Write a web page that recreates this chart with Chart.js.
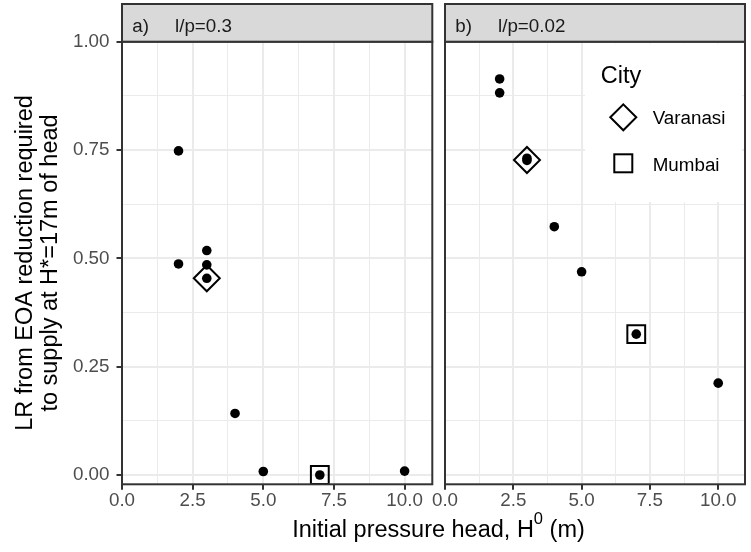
<!DOCTYPE html>
<html>
<head>
<meta charset="utf-8">
<script src="https://cdn.jsdelivr.net/npm/chart.js@4"></script>
<style>
  html, body { margin: 0; padding: 0; background: #fff; overflow: hidden; width: 751px; height: 552px; }
  canvas { position: absolute; left: 0; top: 0; }
</style>
</head>
<body>
<canvas id="panelA" width="751" height="552"></canvas>
<canvas id="panelB" width="760" height="552"></canvas>
<script>
const FONT = "'Liberation Sans', Arial, Helvetica, sans-serif";

// tick positions (major + minor grid)
const xTicks = [0, 1.25, 2.5, 3.75, 5, 6.25, 7.5, 8.75, 10];
const yTicks = [0, 0.125, 0.25, 0.375, 0.5, 0.625, 0.75, 0.875, 1];

// a) l/p=0.3
const headA = [2, 2, 3, 3, 3, 4, 5, 7, 10];
const lrA = [0.748, 0.487, 0.518, 0.485, 0.454, 0.142, 0.008, 0.000, 0.009];
// b) l/p=0.02
const headB = [2, 2, 3, 3, 4, 5, 7, 10];
const lrB = [0.914, 0.882, 0.731, 0.726, 0.573, 0.469, 0.325, 0.212];

// city markers
const varanasiHead = [3];
const varanasiLrA = [0.454];
const varanasiLrB = [0.727];
const mumbaiHead = [7];
const mumbaiLrA = [0.000];
const mumbaiLrB = [0.325];

const toPoints = (xs, ys) => xs.map((x, i) => ({ x: x, y: ys[i] }));
const isMajor = (v, step) => Math.abs(v / step - Math.round(v / step)) < 1e-6;

function datasets(head, lr, vLr, mLr) {
  return [
    { data: toPoints(head, lr), pointRadius: 4.8, pointBackgroundColor: '#000', pointBorderWidth: 0, clip: false },
    { data: toPoints(varanasiHead, vLr), pointStyle: 'rectRot', pointRadius: 13, pointBorderWidth: 2,
      pointBorderColor: '#000', pointBackgroundColor: 'rgba(0,0,0,0)', clip: false },
    { data: toPoints(mumbaiHead, mLr), pointStyle: 'rect', pointRadius: 12.6, pointBorderWidth: 2,
      pointBorderColor: '#000', pointBackgroundColor: 'rgba(0,0,0,0)', clip: false },
  ];
}

function gridOpts(step, drawTicks) {
  return {
    color: '#ebebeb',
    lineWidth: (c) => (c.tick && isMajor(c.tick.value, step) ? 2 : 1),
    drawTicks: drawTicks,
    tickLength: 5.5,
    tickWidth: 2,
    tickColor: (c) => (c.tick && isMajor(c.tick.value, step) ? '#333333' : 'rgba(0,0,0,0)'),
  };
}

function xScale() {
  return {
    type: 'linear', min: 0, max: 10.98,
    afterBuildTicks: (s) => { s.ticks = xTicks.map((v) => ({ value: v })); },
    afterFit: (s) => { s.height = 552 - 484.3; },
    ticks: {
      autoSkip: false, maxRotation: 0, padding: 0, color: '#4d4d4d',
      font: { family: FONT, size: 18.8 },
      callback: (v) => (isMajor(v, 2.5) ? v.toFixed(1) : ''),
    },
    grid: gridOpts(2.5, true),
    border: { display: false },
  };
}

function yScale(showLabels) {
  return {
    type: 'linear', min: -0.0215, max: 1.0,
    afterBuildTicks: (s) => { s.ticks = yTicks.map((v) => ({ value: v })); },
    afterFit: (s) => { s.width = showLabels ? 122 : 0; },
    ticks: {
      display: showLabels, autoSkip: false, padding: 7, color: '#4d4d4d',
      font: { family: FONT, size: 18.8 },
      callback: (v) => (isMajor(v, 0.25) ? v.toFixed(2) : ''),
    },
    grid: gridOpts(0.25, showLabels),
    border: { display: false },
  };
}

function drawStrip(ctx, area, tag, label) {
  ctx.save();
  ctx.fillStyle = '#d9d9d9';
  ctx.fillRect(area.left, 4, area.right - area.left, 41.7 - 4);
  ctx.strokeStyle = '#333333';
  ctx.lineWidth = 2;
  ctx.strokeRect(area.left, 4, area.right - area.left, 41.7 - 4);
  ctx.fillStyle = '#1a1a1a';
  ctx.font = '18.8px ' + FONT;
  ctx.textBaseline = 'alphabetic';
  ctx.textAlign = 'left';
  ctx.fillText(tag, area.left + 10.3, 31.7);
  ctx.fillText(label, area.left + 53, 31.7);
  ctx.restore();
}

function drawBorder(ctx, area) {
  ctx.save();
  ctx.strokeStyle = '#333333';
  ctx.lineWidth = 2;
  ctx.strokeRect(area.left, area.top, area.right - area.left, area.bottom - area.top);
  ctx.restore();
}

const panelAPlugin = {
  id: 'panelA',
  afterDraw(chart) {
    const ctx = chart.ctx;
    const area = chart.chartArea;
    drawBorder(ctx, area);
    drawStrip(ctx, area, 'a)', 'l/p=0.3');

    // y title, two lines
    ctx.save();
    ctx.fillStyle = '#000';
    ctx.font = '23.5px ' + FONT;
    ctx.textAlign = 'center';
    ctx.textBaseline = 'alphabetic';
    [['LR from EOA reduction required', 31.7], ['to supply at H*=17m of head', 57.3]].forEach(([t, x]) => {
      ctx.save();
      ctx.translate(x, 263);
      ctx.rotate(-Math.PI / 2);
      ctx.fillText(t, 0, 0);
      ctx.restore();
    });

    // x title with superscript
    const main = 'Initial pressure head, H';
    const sup = '0';
    const tail = ' (m)';
    ctx.textAlign = 'left';
    ctx.font = '23.5px ' + FONT;
    const w1 = ctx.measureText(main).width;
    const w3 = ctx.measureText(tail).width;
    ctx.font = '16.5px ' + FONT;
    const w2 = ctx.measureText(sup).width;
    let x = 438.5 - (w1 + w2 + w3) / 2;
    ctx.font = '23.5px ' + FONT;
    ctx.fillText(main, x, 536.5);
    x += w1;
    ctx.font = '16.5px ' + FONT;
    ctx.fillText(sup, x, 524);
    x += w2;
    ctx.font = '23.5px ' + FONT;
    ctx.fillText(tail, x, 536.5);
    ctx.restore();
  },
};

const panelBPlugin = {
  id: 'panelB',
  afterDraw(chart) {
    const ctx = chart.ctx;
    const area = chart.chartArea;
    drawBorder(ctx, area);
    drawStrip(ctx, area, 'b)', 'l/p=0.02');

    // legend
    ctx.save();
    ctx.fillStyle = '#fff';
    ctx.fillRect(585, 43.5, 157, 158.5);
    ctx.fillStyle = '#000';
    ctx.textAlign = 'left';
    ctx.textBaseline = 'alphabetic';
    ctx.font = '23.5px ' + FONT;
    ctx.fillText('City', 600.7, 83.3);
    ctx.font = '18.8px ' + FONT;
    ctx.fillText('Varanasi', 652.7, 124);
    ctx.fillText('Mumbai', 652.7, 170.7);
    ctx.strokeStyle = '#000';
    ctx.lineWidth = 2;
    const cx = 623.3;
    ctx.beginPath();
    ctx.moveTo(cx - 13, 117.3);
    ctx.lineTo(cx, 104.3);
    ctx.lineTo(cx + 13, 117.3);
    ctx.lineTo(cx, 130.3);
    ctx.closePath();
    ctx.stroke();
    ctx.strokeRect(cx - 9, 163.3 - 9, 18, 18);
    ctx.restore();
  },
};

const common = {
  responsive: false,
  animation: false,
  events: [],
  plugins: { legend: { display: false }, tooltip: { enabled: false } },
};

new Chart(document.getElementById('panelA').getContext('2d'), {
  type: 'scatter',
  data: { datasets: datasets(headA, lrA, varanasiLrA, mumbaiLrA) },
  options: Object.assign({}, common, {
    layout: { padding: { top: 41.7, right: 751 - 432.3, bottom: 0, left: 0 } },
    scales: { x: xScale(), y: yScale(true) },
  }),
  plugins: [panelAPlugin],
});

new Chart(document.getElementById('panelB').getContext('2d'), {
  type: 'scatter',
  data: { datasets: datasets(headB, lrB, varanasiLrB, mumbaiLrB) },
  options: Object.assign({}, common, {
    layout: { padding: { top: 41.7, right: 5, bottom: 0, left: 445 } },
    scales: { x: xScale(), y: yScale(false) },
  }),
  plugins: [panelBPlugin],
});
</script>
</body>
</html>
